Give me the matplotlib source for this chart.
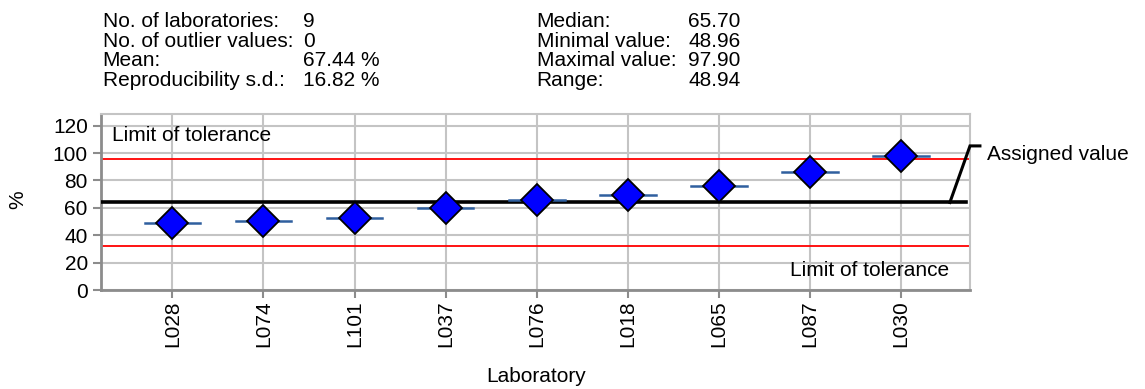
import matplotlib
matplotlib.use("Agg")
import matplotlib.pyplot as plt

plt.rcParams['font.family'] = ['Liberation Sans', 'DejaVu Sans']

# Laboratory results (%), ordered by value
labs = ["L028", "L074", "L101", "L037", "L076", "L018", "L065", "L087", "L030"]
values = [48.96, 50.2, 52.6, 60.1, 65.7, 69.1, 76.1, 86.3, 97.90]

assigned_value = 63.9
upper_limit = 95.6
lower_limit = 32.2

y_ticks = [0, 20, 40, 60, 80, 100, 120]

stats_left = [("No. of laboratories:", "9"),
              ("No. of outlier values:", "0"),
              ("Mean:", "67.44 %"),
              ("Reproducibility s.d.:", "16.82 %")]
stats_right = [("Median:", "65.70"),
               ("Minimal value:", "48.96"),
               ("Maximal value:", "97.90"),
               ("Range:", "48.94")]

W, H = 1145, 389
FS = 15
fig = plt.figure(figsize=(W / 100, H / 100), dpi=100)
ax = fig.add_axes([101 / W, 1 - 290 / H, (970 - 101) / W, (290 - 114) / H])

x = list(range(len(labs)))
xmin, xmax = -0.783, 8.756
ax.set_xlim(xmin, xmax)
ax.set_ylim(0, 128.5)

# grid
grid_c = "#c4c4c4"
for yt in y_ticks:
    ax.axhline(yt, color=grid_c, lw=1.5, zorder=0)
for xi in x:
    ax.axvline(xi, color=grid_c, lw=1.5, zorder=0)

# tolerance limits and assigned value
ax.plot([xmin, 8.74], [upper_limit, upper_limit], color="#ff0000", lw=1.3, zorder=2)
ax.plot([xmin, 8.74], [lower_limit, lower_limit], color="#ff0000", lw=1.3, zorder=2)
ax.plot([xmin, 8.71], [assigned_value, assigned_value], color="black", lw=2.6, zorder=3)

# leader line to the assigned value label
ax.plot([8.535, 8.756, 8.865], [assigned_value, 105.2, 105.2], color="black",
        lw=2.2, clip_on=False, zorder=3, solid_joinstyle="miter")
ax.text(8.94, 98.6, "Assigned value", fontsize=FS, va="center", ha="left",
        clip_on=False)

ax.text(-0.665, 112.5, "Limit of tolerance", fontsize=FS, va="center", ha="left")
ax.text(8.526, 14.6, "Limit of tolerance", fontsize=FS, va="center", ha="right")

# results: short horizontal bars and diamond markers
for xi, v in zip(x, values):
    ax.plot([xi - 0.305, xi + 0.305], [v, v], color="#2f5f9e", lw=1.8, zorder=4)
ax.plot(x, values, linestyle="none", marker="D", markersize=16,
        markerfacecolor="#0000ff", markeredgecolor="black", markeredgewidth=1.3,
        zorder=5)

# axes styling
for side in ("top", "right"):
    ax.spines[side].set_color(grid_c)
    ax.spines[side].set_linewidth(1.5)
for side in ("left", "bottom"):
    ax.spines[side].set_color("#8c8c8c")
    ax.spines[side].set_linewidth(2)

ax.set_yticks(y_ticks)
ax.set_yticklabels([str(t) for t in y_ticks], fontsize=FS)
ax.set_xticks(x)
ax.set_xticklabels(labs, rotation=90, fontsize=FS)
ax.tick_params(axis="both", color="#8c8c8c", length=6, width=1.5)
ax.tick_params(axis="x", pad=1.5)
ax.tick_params(axis="y", pad=3.5)

fig.text(17.3 / W, 1 - 200 / H, "%", fontsize=FS, rotation=90,
         ha="center", va="center")
fig.text(536.5 / W, 1 - 376.7 / H, "Laboratory", fontsize=FS,
         ha="center", va="center")

# statistics header
baselines = [27.3, 46.9, 66.5, 86.1]
for (lab, val), yb in zip(stats_left, baselines):
    fig.text(102.7 / W, 1 - yb / H, lab, fontsize=FS, va="baseline", ha="left")
    fig.text(303 / W, 1 - yb / H, val, fontsize=FS, va="baseline", ha="left")
for (lab, val), yb in zip(stats_right, baselines):
    fig.text(536.7 / W, 1 - yb / H, lab, fontsize=FS, va="baseline", ha="left")
    fig.text(688.3 / W, 1 - yb / H, val, fontsize=FS, va="baseline", ha="left")

fig.savefig("out.png", dpi=100)
